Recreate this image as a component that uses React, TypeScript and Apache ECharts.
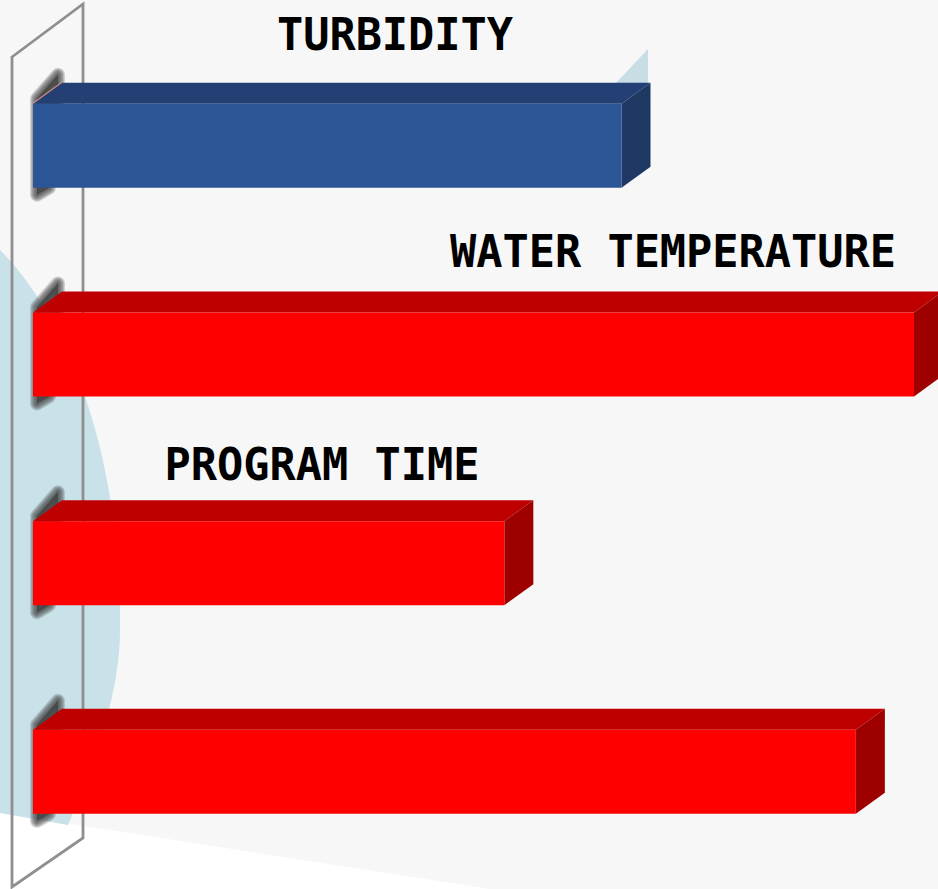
import React, { useEffect, useRef } from "react";
import * as echarts from "echarts";

const categories = ["TURBIDITY", "WATER TEMPERATURE", "PROGRAM TIME", ""];
const values = [66.8, 100, 53.5, 93.4];
const frontColors = ["#2c5596", "#ff0000", "#ff0000", "#ff0000"];
const topColors = ["#243f73", "#bf0000", "#bf0000", "#bf0000"];
const sideColors = ["#1f3864", "#9e0000", "#9e0000", "#9e0000"];
const edgeColors = ["#c98a80", "none", "none", "none"];
const labelCenters: [number, number][] = [[395, 35], [673, 252], [322, 465], [0, 0]];

const BACKDROP =
  "M0,250 C60,310 122,440 120,630 C120,700 90,770 68,825 L0,813 Z";
echarts.graphic.registerShape("backdropBlob", echarts.graphic.extendPath(BACKDROP, {}));

const DX = 29;
const DY = -21;
const BAR_RATIO = 84 / 208.7;
const BLUR_WIDTHS = [14, 12, 10, 8, 6, 4, 2];

export default function App() {
  const ref = useRef<HTMLDivElement>(null);
  useEffect(() => {
    document.body.style.margin = "0";
    const chart = echarts.init(ref.current!, undefined, { renderer: "svg" });
    chart.setOption({
      animation: false,
      backgroundColor: "#ffffff",
      grid: { left: 33, top: 41.4, width: 881, height: 834.8 },
      xAxis: { type: "value", min: 0, max: 100, show: false },
      yAxis: { type: "category", data: categories, inverse: true, show: false },
      graphic: [
        {
          type: "polygon",
          z: 0,
          shape: { points: [[0, 0], [938, 0], [938, 889], [490, 889], [0, 813]] },
          style: { fill: "#f7f7f7" },
        },
        { type: "backdropBlob", z: 1, x: 0, y: 0, style: { fill: "#c9e1e9" } },
        {
          type: "polygon",
          z: 1,
          shape: { points: [[648, 49], [648, 84], [615, 84]] },
          style: { fill: "#c9dde5" },
        },
        {
          type: "polygon",
          z: 1,
          shape: { points: [[12, 57], [83, 4], [83, 838], [12, 887]] },
          style: { fill: "none", stroke: "#8f8f8f", lineWidth: 2.8 },
        },
      ],
      series: [
        {
          type: "custom",
          z: 5,
          clip: false,
          encode: { x: 0, y: 1 },
          data: values.map((v, i) => [v, i]),
          renderItem: (params: any, api: any) => {
            const i = params.dataIndex;
            const end = api.coord([api.value(0), api.value(1)]);
            const start = api.coord([0, api.value(1)]);
            const h = api.size([0, 1])[1] * BAR_RATIO;
            const x0 = start[0];
            const x1 = end[0];
            const y0 = end[1] - h / 2;
            const y1 = end[1] + h / 2;
            const [lx, ly] = labelCenters[i];
            const shadowPoints = [
              [x0 + 4, y0 - 5],
              [x0 + DX - 4, y0 + DY - 8],
              [x0 + DX - 4, y0 + 10],
              [x0 + 16, y1],
              [x0 + 4, y1 + 7],
            ];
            const children: any[] = BLUR_WIDTHS.map((w) => ({
              type: "polygon",
              shape: { points: shadowPoints },
              style: {
                fill: "#444444",
                fillOpacity: 0.22,
                stroke: "#444444",
                strokeOpacity: 0.2,
                lineWidth: w,
                lineJoin: "round",
              },
            }));
            children.push(
              {
                type: "polygon",
                shape: { points: [[x0, y0], [x0 + DX, y0 + DY], [x1 + DX, y0 + DY], [x1, y0]] },
                style: { fill: topColors[i] },
              },
              {
                type: "line",
                shape: { x1: x0, y1: y0 - 0.5, x2: x0 + DX, y2: y0 + DY - 0.5 },
                style: { stroke: edgeColors[i], lineWidth: 1.2 },
              },
              {
                type: "polygon",
                shape: { points: [[x1, y0], [x1 + DX, y0 + DY], [x1 + DX, y1 + DY], [x1, y1]] },
                style: { fill: sideColors[i] },
              },
              {
                type: "rect",
                shape: { x: x0, y: y0, width: x1 - x0, height: y1 - y0 },
                style: { fill: frontColors[i] },
              }
            );
            if (categories[i]) {
              children.push({
                type: "text",
                x: lx,
                y: ly,
                style: {
                  text: categories[i],
                  fill: "#000000",
                  font: 'bold 43.6px "DejaVu Sans Mono"',
                  align: "center",
                  verticalAlign: "middle",
                },
              });
            }
            return { type: "group", children };
          },
        },
      ],
    });
    return () => chart.dispose();
  }, []);
  return <div ref={ref} style={{ width: 938, height: 889 }} />;
}
